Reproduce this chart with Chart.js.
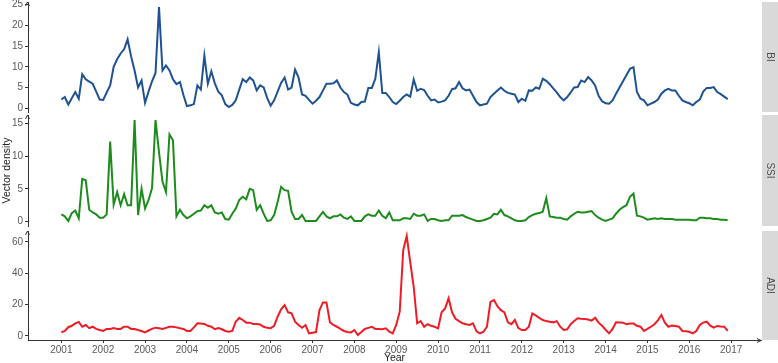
<!DOCTYPE html>
<html><head><meta charset="utf-8">
<script src="https://cdn.jsdelivr.net/npm/chart.js@4.4.0/dist/chart.umd.min.js"></script>
<style>
html,body{margin:0;padding:0;background:#fff;}
#wrap{position:relative;width:778px;height:363px;overflow:hidden;background:#fff;}
canvas{position:absolute;left:0;}
</style></head><body>
<div id="wrap">
<canvas id="c0" width="778" height="113" style="top:0px"></canvas>
<canvas id="c1" width="778" height="114" style="top:113px"></canvas>
<canvas id="c2" width="778" height="134" style="top:229px"></canvas>
</div>
<script>
// ---------- data (monthly, Jan 2001 .. Dec 2016) ----------
const startYear = 2001;
const panelNames = ['BI', 'SSI', 'ADI'];
const yearTicks = [2001,2002,2003,2004,2005,2006,2007,2008,2009,2010,2011,2012,2013,2014,2015,2016,2017];
const biTicks = [0, 5, 10, 15, 20, 25];
const ssiTicks = [0, 5, 10, 15];
const adiTicks = [0, 20, 40, 60];

const biValues = [
 2.1, 2.7, 0.9, 2.4, 3.9, 2.3, 8.2, 7.0, 6.4, 5.9, 4.0, 2.1,
 2.0, 3.8, 5.5, 10.0, 11.8, 13.2, 14.2, 16.6, 12.5, 9.1, 5.0, 6.7,
 1.3, 4.0, 6.5, 8.5, 24.4, 9.1, 10.3, 9.1, 7.0, 5.8, 6.3, 3.2,
 0.5, 0.7, 1.0, 5.5, 4.5, 12.7, 5.9, 8.9, 6.0, 4.0, 3.1, 1.0,
 0.3, 0.8, 1.9, 4.5, 7.0, 6.3, 7.4, 6.7, 4.3, 5.5, 5.0, 2.5,
 0.6, 1.9, 4.0, 6.1, 7.4, 4.5, 5.0, 9.3, 7.4, 3.3, 3.0, 2.0,
 1.1, 1.8, 2.7, 4.3, 5.9, 5.9, 6.0, 6.7, 5.0, 3.9, 3.3, 1.3,
 0.9, 0.7, 1.5, 1.6, 4.9, 4.9, 7.1, 13.5, 3.7, 3.7, 2.7, 1.5,
 1.0, 1.8, 2.7, 3.3, 2.8, 6.9, 4.2, 4.7, 4.4, 3.0, 1.9, 2.1,
 1.4, 1.6, 1.9, 3.0, 4.6, 4.8, 6.3, 4.8, 4.3, 4.5, 3.0, 1.5,
 0.7, 0.9, 1.1, 2.7, 3.5, 4.3, 5.0, 4.2, 3.7, 3.5, 3.3, 1.5,
 2.3, 1.8, 4.3, 4.2, 5.0, 4.7, 7.1, 6.6, 5.8, 4.8, 3.8, 2.7,
 1.9, 2.7, 3.8, 5.0, 5.1, 6.7, 6.3, 7.5, 6.7, 5.5, 3.0, 1.7,
 1.2, 1.1, 1.9, 3.5, 5.0, 6.5, 8.0, 9.5, 9.9, 3.9, 2.3, 1.9,
 0.7, 1.1, 1.5, 2.1, 3.5, 4.3, 4.7, 4.3, 4.3, 3.0, 1.9, 1.5,
 1.2, 0.7, 1.5, 2.1, 4.0, 4.9, 4.9, 5.1, 3.9, 3.4, 2.8, 2.2
];
const ssiValues = [
 1.1, 0.8, 0.1, 1.3, 1.7, 0.5, 6.5, 6.3, 1.8, 1.4, 1.1, 0.6,
 0.6, 1.1, 12.2, 2.6, 4.5, 2.5, 4.2, 2.5, 2.5, 15.5, 1.0, 5.0,
 2.0, 3.3, 5.1, 15.5, 10.6, 6.1, 4.5, 13.3, 12.4, 0.8, 1.8, 1.0,
 0.5, 0.8, 1.2, 1.6, 1.7, 2.5, 2.1, 2.5, 1.4, 1.2, 1.4, 0.4,
 0.3, 1.2, 2.0, 3.3, 3.8, 3.4, 5.0, 4.8, 1.8, 2.5, 1.2, 0.1,
 0.2, 1.0, 3.0, 5.3, 4.8, 4.7, 1.5, 0.4, 0.4, 1.0, 0.1, 0.1,
 0.1, 0.1, 0.8, 1.5, 0.8, 0.5, 0.8, 0.8, 1.1, 0.6, 0.4, 0.8,
 0.1, 0.1, 0.1, 0.8, 1.1, 0.9, 0.9, 1.7, 0.9, 0.5, 1.4, 0.2,
 0.2, 0.2, 0.5, 0.5, 0.4, 1.2, 0.9, 0.9, 1.1, 0.1, 0.4, 0.4,
 0.2, 0.1, 0.2, 0.2, 0.9, 0.9, 0.9, 1.0, 0.7, 0.5, 0.3, 0.1,
 0.1, 0.2, 0.4, 0.6, 1.2, 1.1, 1.8, 1.0, 0.8, 0.5, 0.2, 0.1,
 0.1, 0.2, 0.7, 1.0, 1.2, 1.3, 1.5, 3.6, 0.8, 0.7, 0.6, 0.6,
 0.4, 0.3, 0.8, 1.2, 1.5, 1.4, 1.4, 1.5, 1.6, 1.0, 0.6, 0.3,
 0.1, 0.3, 0.5, 1.2, 1.8, 2.2, 2.5, 3.8, 4.3, 0.9, 0.8, 0.6,
 0.3, 0.4, 0.5, 0.4, 0.5, 0.4, 0.4, 0.4, 0.3, 0.3, 0.3, 0.3,
 0.3, 0.2, 0.2, 0.6, 0.6, 0.5, 0.5, 0.4, 0.4, 0.3, 0.3, 0.2
];
const adiValues = [
 2.3, 3.2, 5.6, 6.5, 8.0, 9.0, 5.9, 7.0, 5.0, 5.9, 4.5, 3.8,
 3.2, 4.5, 4.5, 5.0, 4.5, 4.5, 5.9, 5.9, 4.5, 4.5, 3.8, 3.2,
 2.3, 3.5, 4.5, 5.3, 4.9, 4.5, 5.2, 5.9, 5.9, 5.5, 4.9, 4.5,
 3.2, 3.2, 5.5, 8.1, 8.0, 7.7, 6.5, 5.9, 4.3, 5.0, 4.3, 3.2,
 2.7, 3.2, 9.1, 11.6, 10.2, 8.5, 8.5, 7.7, 7.7, 7.3, 5.9, 5.2,
 4.9, 6.5, 12.3, 17.0, 19.7, 15.1, 14.5, 9.1, 7.0, 5.3, 7.0, 1.7,
 2.1, 2.5, 16.5, 21.4, 21.4, 8.7, 7.0, 5.9, 4.5, 3.2, 2.5, 2.3,
 3.8, 0.6, 2.5, 4.5, 5.2, 5.9, 4.5, 4.5, 4.3, 4.9, 2.8, 1.7,
 7.0, 15.5, 54.7, 63.8, 47.3, 31.4, 8.1, 9.5, 5.9, 7.5, 6.5, 5.9,
 4.9, 15.1, 17.6, 24.0, 15.1, 11.0, 9.5, 8.1, 7.5, 7.0, 8.1, 3.0,
 1.7, 2.7, 5.9, 21.8, 22.9, 19.0, 16.5, 15.1, 8.7, 7.5, 10.2, 5.0,
 3.8, 3.8, 5.9, 14.4, 13.1, 11.5, 10.2, 9.5, 9.1, 8.7, 9.5, 5.9,
 3.8, 4.3, 7.5, 9.5, 11.3, 11.0, 10.9, 10.5, 9.8, 11.6, 8.5, 6.6,
 4.0, 1.7, 4.5, 8.7, 8.6, 8.5, 7.5, 7.9, 7.9, 6.5, 5.9, 3.2,
 4.5, 5.9, 7.5, 10.0, 13.4, 8.5, 5.9, 6.6, 6.3, 5.9, 3.2, 3.0,
 2.7, 1.7, 3.2, 7.0, 8.5, 9.1, 6.6, 5.3, 6.4, 6.0, 5.9, 3.2
];

// ---------- styling ----------
const FONT = '"Liberation Sans", Arial, sans-serif';
const lineColors = ['#1f5291', '#1d8c1d', '#ee1c25'];
const AXIS = '#333333';
const TICKTXT = '#595959';

const xVals = biValues.map((_, i) => startYear + i / 12);
function expand(vals, f) {
  const mn = Math.min(...vals), mx = Math.max(...vals), r = mx - mn;
  return { min: mn - f * r, max: mx + f * r };
}
const xr = expand(xVals, 0.05);

const facetPlugin = {
  id: 'facet',
  afterDraw(chart, args, opts) {
    const { ctx, chartArea: a } = chart;
    ctx.save();
    const sx = a.right + 1, sw = chart.width - sx;
    ctx.fillStyle = '#d9d9d9';
    ctx.fillRect(sx, a.top, sw, a.bottom - a.top);
    ctx.save();
    ctx.translate(sx + sw / 2, (a.top + a.bottom) / 2);
    ctx.rotate(Math.PI / 2);
    ctx.fillStyle = '#4d4d4d';
    ctx.font = '10px ' + FONT;
    ctx.textAlign = 'center';
    ctx.textBaseline = 'middle';
    ctx.fillText(opts.label, 0, 0);
    ctx.restore();
    ctx.strokeStyle = AXIS;
    ctx.lineWidth = 1;
    const lx = Math.round(a.left) - 0.5;
    ctx.beginPath();
    ctx.moveTo(lx - 2, a.top + 4);
    ctx.lineTo(lx, a.top);
    ctx.lineTo(lx + 2, a.top + 4);
    ctx.stroke();
    if (opts.bottom) {
      const by = Math.round(a.bottom) + 0.5;
      ctx.beginPath();
      ctx.moveTo(a.right - 4, by - 2);
      ctx.lineTo(a.right, by);
      ctx.lineTo(a.right - 4, by + 2);
      ctx.stroke();
    }
    ctx.restore();
  }
};

const panels = [
  { id: 'c0', values: biValues, ticks: biTicks, pad: { top: 2, bottom: 1 } },
  { id: 'c1', values: ssiValues, ticks: ssiTicks, pad: { top: 2, bottom: 1 }, yTitle: true },
  { id: 'c2', values: adiValues, ticks: adiTicks, pad: { top: 2, bottom: 0 }, bottom: true }
];

panels.forEach((p, idx) => {
  const yr = expand(p.values, 0.05);
  new Chart(document.getElementById(p.id), {
    type: 'line',
    data: {
      datasets: [{
        data: p.values.map((v, i) => ({ x: xVals[i], y: v })),
        borderColor: lineColors[idx],
        borderWidth: 2,
        pointRadius: 0,
        tension: 0,
        fill: false
      }]
    },
    plugins: [facetPlugin],
    options: {
      responsive: false,
      devicePixelRatio: 1,
      animation: false,
      layout: { padding: { left: 0, right: 17, top: p.pad.top, bottom: p.pad.bottom } },
      plugins: {
        legend: { display: false },
        tooltip: { enabled: false },
        facet: { label: panelNames[idx], bottom: !!p.bottom }
      },
      scales: {
        x: {
          type: 'linear',
          min: xr.min, max: xr.max,
          display: !!p.bottom,
          afterBuildTicks: s => { s.ticks = yearTicks.map(v => ({ value: v })); },
          afterFit: s => {
            s.height = p.bottom ? 23 : 0;
            s.paddingLeft = 0; s.paddingRight = 0;
          },
          grid: { drawOnChartArea: false, drawTicks: true, tickLength: 3, color: AXIS },
          border: { display: true, color: AXIS, width: 1 },
          ticks: { color: TICKTXT, font: { family: FONT, size: 10 }, padding: 1, maxRotation: 0, autoSkip: false, callback: v => String(v) },
          title: { display: true, text: 'Year', color: '#222', font: { family: FONT, size: 10.5 }, padding: { top: 0, bottom: -1 } }
        },
        y: {
          type: 'linear',
          min: yr.min, max: yr.max,
          afterBuildTicks: s => { s.ticks = p.ticks.map(v => ({ value: v })); },
          afterFit: s => {
            s.width = 28;
            s.paddingTop = 0; s.paddingBottom = 0;
          },
          grid: { drawOnChartArea: false, drawTicks: true, tickLength: 3, color: AXIS },
          border: { display: true, color: AXIS, width: 1 },
          ticks: { color: TICKTXT, font: { family: FONT, size: 10 }, padding: 2, callback: v => String(v) },
          title: { display: !!p.yTitle, text: 'Vector density', color: '#222', font: { family: FONT, size: 10.5 }, padding: { top: 1, bottom: 0 } }
        }
      }
    }
  });
});
</script>
</body></html>
